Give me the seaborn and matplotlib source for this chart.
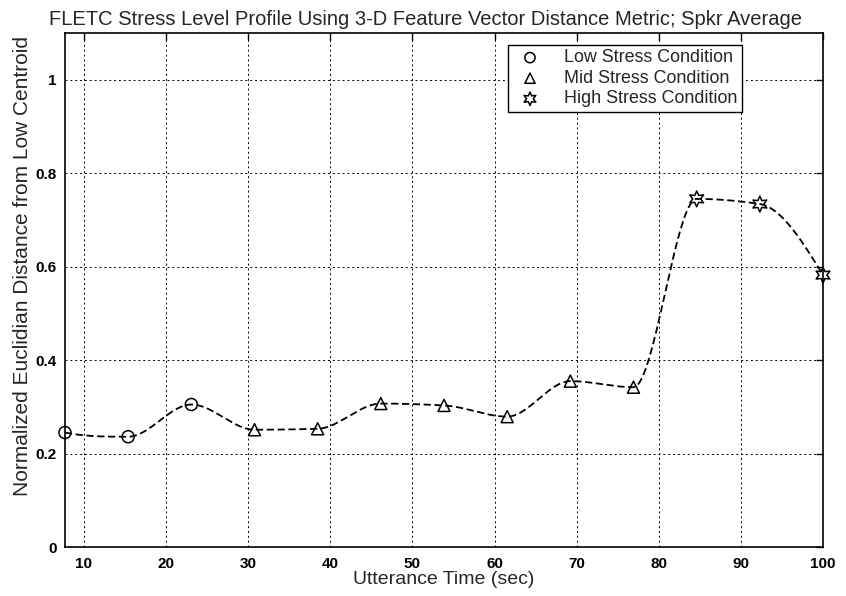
import numpy as np
import pandas as pd
import seaborn as sns
import matplotlib
matplotlib.use('Agg')
import matplotlib.pyplot as plt

# data
t_low = [7.69, 15.38, 23.08]
d_low = [0.245, 0.236, 0.305]
t_mid = [30.77, 38.46, 46.15, 53.85, 61.54, 69.23, 76.92]
d_mid = [0.251, 0.253, 0.307, 0.303, 0.279, 0.355, 0.342]
t_high = [84.62, 92.31, 100.0]
d_high = [0.745, 0.734, 0.582]

x_ticks = [10, 20, 30, 40, 50, 60, 70, 80, 90, 100]
y_ticks = [0, 0.2, 0.4, 0.6, 0.8, 1.0]
y_ticklabels = ['0', '0.2', '0.4', '0.6', '0.8', '1']


def pchip_curve(x, y, n=500):
    # shape-preserving cubic, only used to draw the connecting curve
    x = np.asarray(x, float)
    y = np.asarray(y, float)
    h = np.diff(x)
    dl = np.diff(y) / h
    k = len(x)
    m = np.zeros(k)
    for i in range(1, k - 1):
        if dl[i - 1] * dl[i] > 0:
            w1 = 2 * h[i] + h[i - 1]
            w2 = h[i] + 2 * h[i - 1]
            m[i] = (w1 + w2) / (w1 / dl[i - 1] + w2 / dl[i])
    # end slopes
    def end(h0, h1, d0, d1):
        s = ((2 * h0 + h1) * d0 - h0 * d1) / (h0 + h1)
        if np.sign(s) != np.sign(d0):
            s = 0
        elif np.sign(d0) != np.sign(d1) and abs(s) > abs(3 * d0):
            s = 3 * d0
        return s
    m[0] = end(h[0], h[1], dl[0], dl[1])
    m[-1] = end(h[-1], h[-2], dl[-1], dl[-2])
    xs = np.linspace(x[0], x[-1], n)
    idx = np.clip(np.searchsorted(x, xs) - 1, 0, k - 2)
    hh = h[idx]
    s = (xs - x[idx]) / hh
    h00 = 2 * s**3 - 3 * s**2 + 1
    h10 = s**3 - 2 * s**2 + s
    h01 = -2 * s**3 + 3 * s**2
    h11 = s**3 - s**2
    ys = h00 * y[idx] + h10 * hh * m[idx] + h01 * y[idx + 1] + h11 * hh * m[idx + 1]
    return xs, ys


sns.set_style('white')
plt.rcParams['font.family'] = ['Liberation Sans', 'DejaVu Sans']

fig = plt.figure(figsize=(8.46, 5.96), dpi=100)
ax = fig.add_axes([0.0768, 0.0822, 0.896, 0.8624])

xs, ys = pchip_curve(t_low + t_mid + t_high, d_low + d_mid + d_high)
curve = pd.DataFrame({'t': xs, 'd': ys})
sns.lineplot(data=curve, x='t', y='d', ax=ax, color='black', lw=1.3,
             linestyle=(0, (4, 2)), legend=False)

pts = pd.DataFrame({'t': t_low + t_mid + t_high,
                    'd': d_low + d_mid + d_high,
                    'cond': ['Low Stress Condition'] * len(t_low)
                    + ['Mid Stress Condition'] * len(t_mid)
                    + ['High Stress Condition'] * len(t_high)})
mk = {'Low Stress Condition': ('o', 75), 'Mid Stress Condition': ('^', 75),
      'High Stress Condition': ((6, 1, 0), 130)}
for cond, (m, sz) in mk.items():
    sub = pts[pts['cond'] == cond]
    sns.scatterplot(data=sub, x='t', y='d', ax=ax, marker=m, s=sz,
                    facecolor='none', edgecolor='black', linewidth=1.1,
                    label=cond, clip_on=False, zorder=3)

ax.set_xlim(7.69, 100)
ax.set_ylim(0, 1.1)
ax.set_xticks(x_ticks)
ax.set_yticks(y_ticks)
ax.set_yticklabels(y_ticklabels)
for lab in ax.get_xticklabels() + ax.get_yticklabels():
    lab.set_family(['Liberation Sans Narrow', 'Liberation Sans'])
    lab.set_fontweight('bold')
    lab.set_fontsize(11)
ax.tick_params(direction='in', top=True, right=True, length=5, width=1, colors='black')
ax.tick_params(axis='x', pad=7)
ax.tick_params(axis='y', pad=6)
ax.grid(True, color='black', linestyle=(0, (2, 3)), lw=0.7)
for s in ax.spines.values():
    s.set_color('black')
    s.set_linewidth(1.2)

ax.set_title('FLETC Stress Level Profile Using 3-D Feature Vector Distance Metric; Spkr Average',
             fontsize=14.5, pad=6, x=0.476)
ax.set_xlabel('Utterance Time (sec)', fontsize=14, labelpad=0)
ax.set_ylabel('Normalized Euclidian Distance from Low Centroid', fontsize=15)
ax.yaxis.set_label_coords(-0.044, 0.547)

leg = ax.legend(loc='upper right', bbox_to_anchor=(0.893, 0.977), borderaxespad=0,
                fontsize=12.9, frameon=True, fancybox=False, edgecolor='black',
                framealpha=1, handletextpad=0.9, borderpad=0.25, labelspacing=0.2,
                markerscale=0.85)
leg.get_frame().set_linewidth(1)

fig.savefig('out.png', dpi=100)
